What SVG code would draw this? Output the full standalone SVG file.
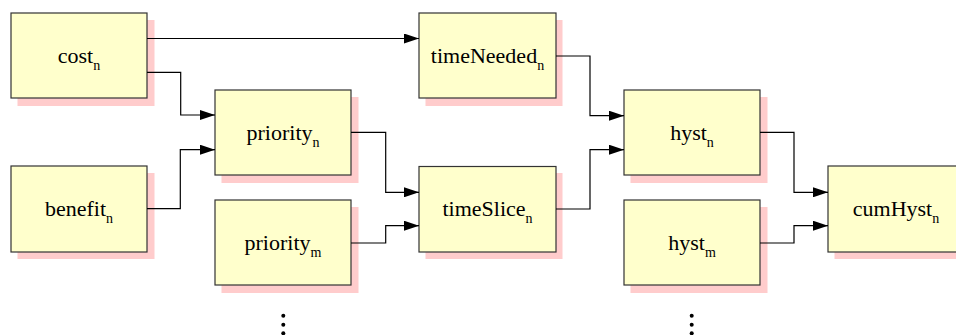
<svg xmlns="http://www.w3.org/2000/svg" width="956" height="335" viewBox="0 0 956 335">
<style>
.sh{fill:#ffcccc;stroke:none}
.bx{fill:#ffffcc;stroke:#333;stroke-width:1.2}
.c{fill:none;stroke:#000;stroke-width:1.2}
.d{fill:#000}
</style>
<defs>
<marker id="ah" markerWidth="15" markerHeight="10" refX="15" refY="5" orient="auto" markerUnits="userSpaceOnUse">
<path d="M0,0 L15,5 L0,10 Z" fill="#000"/>
</marker>
</defs>
<g id="cost"><rect class="sh" x="17.5" y="20" width="137" height="86"/><rect class="bx" x="11" y="13" width="136" height="85"/><text x="79" y="62.7" font-family="Liberation Serif" font-size="22" text-anchor="middle">cost<tspan font-size="14" dy="7">n</tspan></text></g>
<g id="benefit"><rect class="sh" x="17.5" y="173" width="137" height="86"/><rect class="bx" x="11" y="166" width="136" height="86"/><text x="79" y="216" font-family="Liberation Serif" font-size="22" text-anchor="middle">benefit<tspan font-size="14" dy="7">n</tspan></text></g>
<g id="priority_n"><rect class="sh" x="221.5" y="97" width="137" height="86"/><rect class="bx" x="215" y="90" width="136" height="85"/><text x="283" y="139.5" font-family="Liberation Serif" font-size="22" text-anchor="middle">priority<tspan font-size="14" dy="7">n</tspan></text></g>
<g id="priority_m"><rect class="sh" x="221.5" y="207" width="137" height="86"/><rect class="bx" x="215" y="200" width="136" height="85"/><text x="283" y="250" font-family="Liberation Serif" font-size="22" text-anchor="middle">priority<tspan font-size="14" dy="7">m</tspan></text></g>
<g id="timeNeeded"><rect class="sh" x="425.5" y="20" width="137" height="86"/><rect class="bx" x="419" y="13" width="137" height="85"/><text x="487.5" y="62.7" font-family="Liberation Serif" font-size="22" text-anchor="middle">timeNeeded<tspan font-size="14" dy="7">n</tspan></text></g>
<g id="timeSlice"><rect class="sh" x="425.5" y="173" width="137" height="86"/><rect class="bx" x="419" y="166.5" width="137" height="85.5"/><text x="487.5" y="216" font-family="Liberation Serif" font-size="22" text-anchor="middle">timeSlice<tspan font-size="14" dy="7">n</tspan></text></g>
<g id="hyst_n"><rect class="sh" x="630.5" y="97" width="137" height="86"/><rect class="bx" x="624" y="90" width="136" height="85"/><text x="692" y="139.5" font-family="Liberation Serif" font-size="22" text-anchor="middle">hyst<tspan font-size="14" dy="7">n</tspan></text></g>
<g id="hyst_m"><rect class="sh" x="630.5" y="207" width="137" height="86"/><rect class="bx" x="624" y="200" width="136" height="85"/><text x="692" y="250" font-family="Liberation Serif" font-size="22" text-anchor="middle">hyst<tspan font-size="14" dy="7">m</tspan></text></g>
<g id="cumHyst"><rect class="sh" x="834.5" y="173" width="137" height="86"/><rect class="bx" x="828" y="166" width="136" height="86"/><text x="896" y="216" font-family="Liberation Serif" font-size="22" text-anchor="middle">cumHyst<tspan font-size="14" dy="7">n</tspan></text></g>
<g id="connectors">
<path class="c" d="M147,38.5 H419" marker-end="url(#ah)"/>
<path class="c" d="M147,72.3 H180.7 V115 H215" marker-end="url(#ah)"/>
<path class="c" d="M147,208.7 H180.3 V149.7 H215" marker-end="url(#ah)"/>
<path class="c" d="M351,132.3 H385.7 V192.3 H419" marker-end="url(#ah)"/>
<path class="c" d="M351,243 H385.7 V225.7 H419" marker-end="url(#ah)"/>
<path class="c" d="M556,56 H590 V115.7 H624" marker-end="url(#ah)"/>
<path class="c" d="M556,209 H590 V149.7 H624" marker-end="url(#ah)"/>
<path class="c" d="M760,132.3 H794 V192.3 H828" marker-end="url(#ah)"/>
<path class="c" d="M760,243 H794 V225.7 H828" marker-end="url(#ah)"/>
</g>
<g id="dots">
<circle class="d" cx="283.3" cy="315.7" r="2"/><circle class="d" cx="283.3" cy="324.7" r="2"/><circle class="d" cx="283.3" cy="333.3" r="2"/>
<circle class="d" cx="691.7" cy="315.7" r="2"/><circle class="d" cx="691.7" cy="324.7" r="2"/><circle class="d" cx="691.7" cy="333.3" r="2"/>
</g>
</svg>
